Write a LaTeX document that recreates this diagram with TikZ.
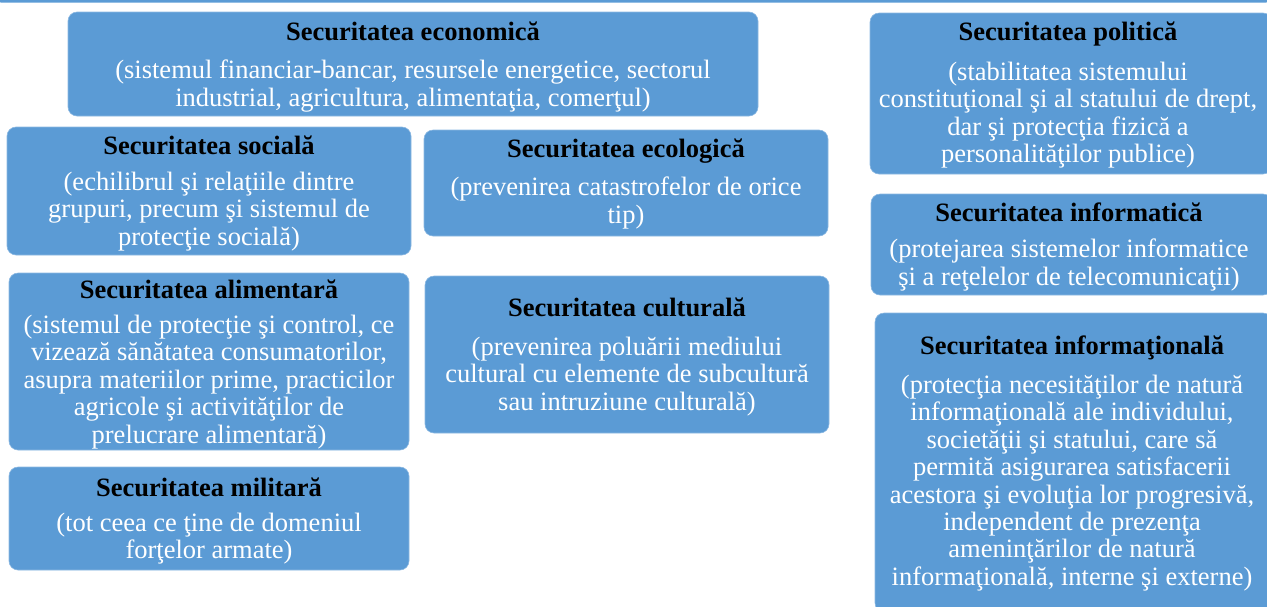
\documentclass[tikz,border=0pt]{standalone}
\usepackage{fontspec}
\setmainfont{Liberation Serif}
\definecolor{boxblue}{HTML}{5B9BD5}
\tikzset{
  box/.style={fill=boxblue, draw=boxblue!70!white, line width=0.6pt, rounded corners=9pt, inner sep=0pt},
  ttl/.style={font=\fontsize{26.5}{27.4}\selectfont\bfseries, text=black, inner sep=0pt},
  dsc/.style={font=\fontsize{26.5}{27.4}\selectfont, text=white, align=center, inner sep=0pt},
}
\newcommand{\boxat}[5]{% name, x1, y1, x2, y2
  \node[box, minimum width={(#4-#2)*1pt}, minimum height={(#5-#3)*1pt}] (#1) at ({(#2+#4)/2*1pt},{-(#3+#5)/2*1pt}) {};}
\begin{document}
\begin{tikzpicture}[x=1pt,y=-1pt]
\useasboundingbox (0,0) rectangle (1267,606);
% top bar
\fill[boxblue, rounded corners=6pt] (-5,-20) rectangle (1272,2.5);
\boxat{eco}{68}{12}{758}{116}
\boxat{soc}{7}{127}{411}{255}
\boxat{ecol}{424}{130}{828}{236}
\boxat{ali}{9}{273}{409}{450}
\boxat{cul}{425}{276}{829}{433}
\boxat{mil}{9}{467}{409}{570}
\boxat{pol}{870}{13}{1272}{174}
\boxat{inf}{871}{194}{1272}{295}
\boxat{infn}{875}{313}{1272}{612}
% texts
\node[ttl] (ecoT) at (413,31) {Securitatea economică};
\node[dsc, anchor=north] (ecoD) at (413,60) {(sistemul financiar-bancar, resursele energetice, sectorul\\industrial, agricultura, alimentaţia, comerţul)};
\node[ttl] (socT) at (209,145) {Securitatea socială};
\node[dsc, anchor=north] (socD) at (209,172) {(echilibrul şi relaţiile dintre\\grupuri, precum şi sistemul de\\protecţie socială)};
\node[ttl] (ecolT) at (626,151) {Securitatea ecologică};
\node[dsc, anchor=north] (ecolD) at (626,177) {(prevenirea catastrofelor de orice\\tip)};
\node[ttl] (aliT) at (209,289) {Securitatea alimentară};
\node[dsc, anchor=north] (aliD) at (209,315) {(sistemul de protecţie şi control, ce\\vizează sănătatea consumatorilor,\\asupra materiilor prime, practicilor\\agricole şi activităţilor de\\prelucrare alimentară)};
\node[ttl] (culT) at (627,307) {Securitatea culturală};
\node[dsc, anchor=north] (culD) at (627,337) {(prevenirea poluării mediului\\cultural cu elemente de subcultură\\sau intruziune culturală)};
\node[ttl] (milT) at (209,487) {Securitatea militară};
\node[dsc, anchor=north] (milD) at (209,513) {(tot ceea ce ţine de domeniul\\forţelor armate)};
\node[ttl] (polT) at (1068,34) {Securitatea politică};
\node[dsc, anchor=north] (polD) at (1068,62) {(stabilitatea sistemului\\constituţional şi al statului de drept,\\dar şi protecţia fizică a\\personalităţilor publice)};
\node[ttl] (infT) at (1069,212) {Securitatea informatică};
\node[dsc, anchor=north] (infD) at (1069,239) {(protejarea sistemelor informatice\\şi a reţelelor de telecomunicaţii)};
\node[ttl] (infnT) at (1072,348) {Securitatea informaţională};
\node[dsc, anchor=north] (infnD) at (1072,375) {(protecţia necesităţilor de natură\\informaţională ale individului,\\societăţii şi statului, care să\\permită asigurarea satisfacerii\\acestora şi evoluţia lor progresivă,\\independent de prezenţa\\ameninţărilor de natură\\informaţională, interne şi externe)};
\end{tikzpicture}
\end{document}
